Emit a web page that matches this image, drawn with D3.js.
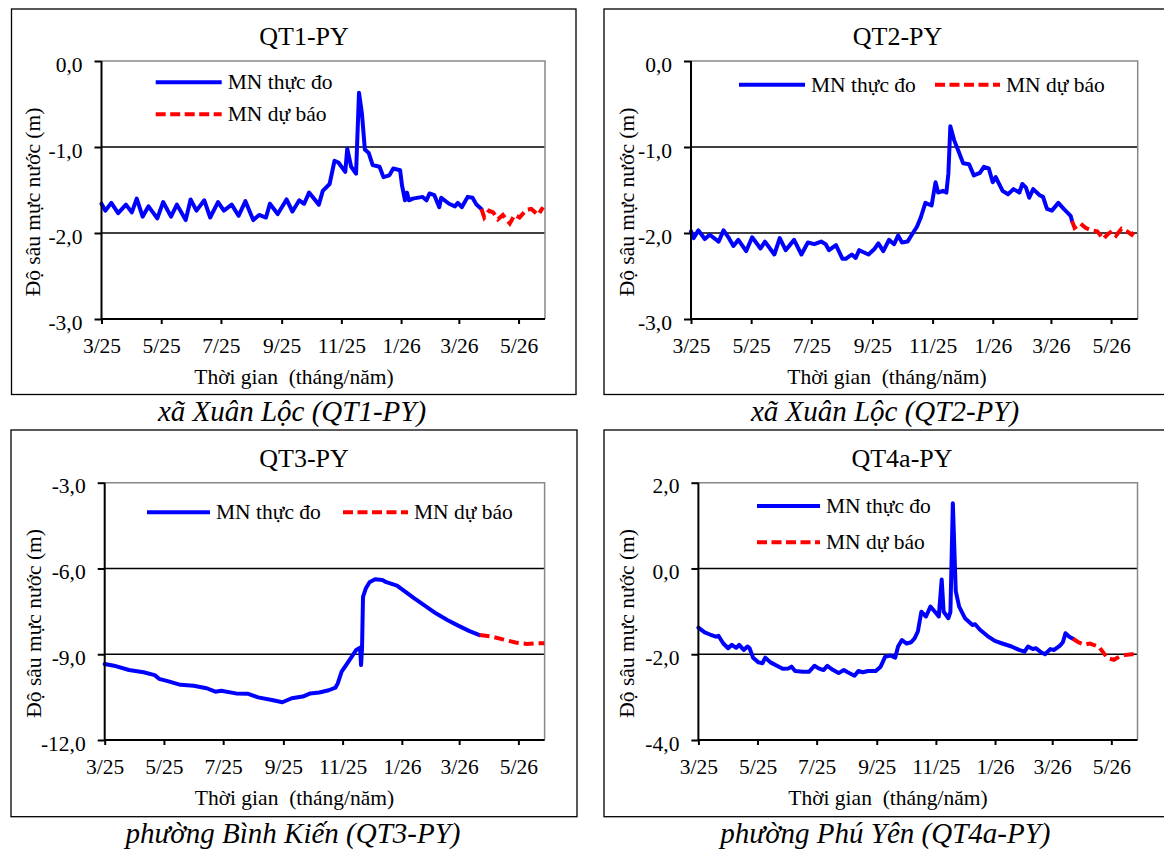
<!DOCTYPE html>
<html>
<head>
<meta charset="utf-8">
<script src="https://cdn.jsdelivr.net/npm/d3@7"></script>
<style>
  html, body { margin: 0; padding: 0; background: #fff; overflow: hidden; }
  svg { display: block; font-family: "Liberation Serif", "Times New Roman", serif; }
</style>
</head>
<body>
<svg id="chart" width="1164" height="850"></svg>
<script>
// ---------------------------------------------------------
//  Groundwater depth, observed vs forecast — four wells
// ---------------------------------------------------------

// time axis: days counted from 1 March 2025
const START = new Date(2025, 2, 1);
const END   = new Date(2026, 4, 28);
const tickDates  = ["2025-03-01", "2025-05-01", "2025-07-01", "2025-09-01", "2025-11-01", "2026-01-01", "2026-03-01", "2026-05-01"];
const tickLabels = ["3/25", "5/25", "7/25", "9/25", "11/25", "1/26", "3/26", "5/26"];

const legendLabels = { obs: "MN thực đo", fc: "MN dự báo" };
const titles   = ["QT1-PY", "QT2-PY", "QT3-PY", "QT4a-PY"];
const captions = ["xã Xuân Lộc (QT1-PY)", "xã Xuân Lộc (QT2-PY)", "phường Bình Kiến (QT3-PY)", "phường Phú Yên (QT4a-PY)"];
const yTickSets = [[0, -1, -2, -3], [0, -1, -2, -3], [-3, -6, -9, -12], [2, 0, -2, -4]];

// [day, depth (m)]
const qt1Obs = [[0,-1.66],[4,-1.74],[10,-1.65],[17,-1.77],[25,-1.67],[31,-1.76],[36,-1.60],[42,-1.81],[48,-1.69],[57,-1.83],
  [63,-1.64],[71,-1.81],[77,-1.67],[86,-1.85],[91,-1.61],[97,-1.74],[105,-1.62],[111,-1.82],[119,-1.64],[125,-1.74],
  [133,-1.67],[140,-1.80],[147,-1.63],[155,-1.85],[161,-1.79],[168,-1.82],[172,-1.66],[180,-1.78],[189,-1.61],[195,-1.75],
  [202,-1.62],[207,-1.66],[212,-1.53],[222,-1.67],[226,-1.51],[233,-1.43],[238,-1.16],[242,-1.18],[249,-1.29],[251,-1.02],
  [255,-1.23],[260,-1.31],[263,-0.37],[266,-0.61],[269,-1.03],[273,-1.07],[277,-1.21],[284,-1.23],[288,-1.35],[294,-1.33],
  [298,-1.25],[305,-1.27],[307,-1.45],[310,-1.62],[312,-1.53],[314,-1.62],[318,-1.60],[328,-1.58],[332,-1.62],[335,-1.54],
  [340,-1.56],[345,-1.70],[347,-1.59],[355,-1.66],[361,-1.69],[364,-1.65],[368,-1.70],[374,-1.58],[379,-1.59],[383,-1.67],[388,-1.72]];
const qt1Fc = [[388,-1.72],[391,-1.82],[396,-1.74],[400,-1.76],[405,-1.84],[410,-1.79],[417,-1.89],[422,-1.79],[427,-1.82],
  [434,-1.73],[439,-1.72],[446,-1.79],[451,-1.70]];

const qt2Obs = [[0,-1.98],[2.6,-2.06],[7.5,-1.97],[14,-2.07],[19,-2.02],[28,-2.10],[33,-1.97],[38.5,-2.06],[43,-2.15],[48,-2.08],
  [56,-2.21],[62,-2.05],[70.5,-2.18],[75,-2.10],[84.5,-2.25],[90,-2.06],[96,-2.20],[104.5,-2.08],[112,-2.25],[118.5,-2.11],
  [125,-2.13],[132,-2.10],[136.6,-2.13],[140,-2.20],[147,-2.14],[153.6,-2.30],[157,-2.30],[163,-2.25],[167,-2.29],[170.6,-2.20],
  [180,-2.25],[185.7,-2.19],[190,-2.12],[195,-2.21],[200.8,-2.08],[206,-2.13],[210,-2.03],[214,-2.11],[219.6,-2.10],[225,-2.00],
  [229,-1.93],[233,-1.82],[237.7,-1.65],[244,-1.68],[248,-1.41],[250.6,-1.53],[255.5,-1.51],[259,-1.53],[261,-1.31],[263,-0.76],
  [266.8,-0.92],[271.7,-1.06],[276,-1.19],[282,-1.20],[286.8,-1.33],[293,-1.30],[297,-1.23],[302,-1.25],[306,-1.41],[309,-1.35],
  [316,-1.51],[321.5,-1.55],[327,-1.49],[333,-1.53],[336,-1.43],[339.6,-1.47],[343,-1.59],[347,-1.49],[353.6,-1.56],[357,-1.58],
  [361,-1.72],[366,-1.74],[372.5,-1.65],[378,-1.72],[385,-1.80],[386.4,-1.86]];
const qt2Fc = [[386.4,-1.86],[389,-1.94],[395,-1.89],[400,-1.94],[406,-1.97],[412,-1.98],[418,-2.07],[423,-2.01],[427,-1.98],
  [431,-2.03],[436.6,-1.95],[442,-1.98],[447,-2.02],[451.7,-1.95]];

const qt3Obs = [[0,-9.34],[9.5,-9.40],[25,-9.55],[40,-9.63],[51.5,-9.73],[56,-9.86],[66.7,-9.96],[78,-10.07],[91.5,-10.10],
  [105,-10.19],[114,-10.31],[120,-10.28],[135,-10.37],[147,-10.38],[158,-10.51],[173.5,-10.61],[183,-10.68],[192.6,-10.54],
  [204,-10.48],[211.7,-10.37],[221,-10.34],[230.7,-10.26],[237.6,-10.17],[240,-10.02],[244,-9.61],[249.8,-9.32],[255.5,-9.03],
  [259,-8.85],[263,-8.77],[264,-9.38],[265,-8.79],[266,-6.99],[269,-6.69],[272.7,-6.48],[278.4,-6.38],[286,-6.40],[290,-6.48],
  [301,-6.60],[307,-6.75],[318.5,-7.04],[330,-7.31],[341,-7.57],[352.8,-7.80],[364,-8.00],[375.7,-8.19],[386,-8.33]];
const qt3Fc = [[386,-8.33],[398.5,-8.38],[410,-8.48],[423,-8.59],[434.8,-8.64],[444,-8.62],[452.7,-8.62]];

const qt4Obs = [[0,-1.38],[6.5,-1.49],[12,-1.54],[18,-1.59],[20.7,-1.57],[25.7,-1.75],[30.7,-1.86],[34.5,-1.78],[39,-1.85],
  [42,-1.78],[46.8,-1.90],[50.6,-1.82],[52.6,-1.85],[56.4,-2.08],[62,-2.19],[66,-2.21],[69,-2.08],[74.4,-2.19],[81,-2.27],
  [87,-2.34],[93,-2.33],[96,-2.29],[99.8,-2.39],[108,-2.41],[114,-2.41],[119.7,-2.27],[124,-2.33],[129,-2.37],[133,-2.27],
  [139,-2.37],[144.7,-2.44],[150,-2.37],[154,-2.42],[161,-2.50],[165,-2.39],[169.6,-2.42],[175,-2.39],[183,-2.39],[188,-2.29],
  [192.6,-2.06],[198,-2.03],[203,-2.08],[206,-1.82],[210,-1.67],[214.9,-1.75],[219.5,-1.72],[223,-1.63],[226.4,-1.47],[230,-1.01],
  [234.8,-1.12],[239.4,-0.89],[244,-1.01],[248,-1.12],[251,-0.26],[253,-1.01],[257.9,-1.16],[260,-1.01],[262.5,1.52],[265.5,-0.53],
  [269,-0.89],[275,-1.16],[282.8,-1.32],[285.5,-1.30],[290.5,-1.43],[298,-1.57],[305.8,-1.69],[313.5,-1.75],[323,-1.82],
  [330.8,-1.90],[336.5,-1.94],[340,-1.82],[345,-1.88],[348,-1.86],[354,-1.96],[357.6,-2.00],[363,-1.88],[367,-1.90],[373,-1.80],
  [376,-1.72],[378.7,-1.51],[382.6,-1.59],[386.4,-1.64]];
const qt4Fc = [[386.4,-1.64],[392,-1.72],[398,-1.78],[404,-1.75],[407.7,-1.78],[413,-1.82],[417,-1.94],[422,-2.09],[428.6,-2.13],
  [434,-2.06],[440,-2.02],[446.7,-2.00],[452.4,-2.00]];

const seriesObs = [qt1Obs, qt2Obs, qt3Obs, qt4Obs];
const seriesFc  = [qt1Fc, qt2Fc, qt3Fc, qt4Fc];

// ---- layout (pixels) ----
const layout = [
  { box: [11.5, 9, 576, 394.5],  plot: [101.5, 61, 545, 319],    titleX: 304,   capX: 292, axTitleX: 294, yTitleX: 33,
    legend: [{ k: 'obs', x: 155.7, y: 82.3, len: 66 }, { k: 'fc', x: 155.7, y: 114.3, len: 66 }] },
  { box: [604, 9, 1170, 394.5],  plot: [691, 61, 1137.7, 319],   titleX: 897.5, capX: 885, axTitleX: 887, yTitleX: 626.5,
    legend: [{ k: 'obs', x: 739, y: 84.7, len: 66 }, { k: 'fc', x: 935, y: 84.7, len: 65 }] },
  { box: [11, 430, 577, 816.7],  plot: [104.7, 482.7, 544.6, 740], titleX: 304,  capX: 293, axTitleX: 294.5, yTitleX: 34,
    legend: [{ k: 'obs', x: 147, y: 512.3, len: 63 }, { k: 'fc', x: 343, y: 512.3, len: 65 }] },
  { box: [604, 430, 1170, 816.7], plot: [698.4, 482.7, 1137.5, 740], titleX: 902, capX: 885.4, axTitleX: 888, yTitleX: 626.5,
    legend: [{ k: 'obs', x: 757, y: 506, len: 63 }, { k: 'fc', x: 757, y: 542.3, len: 63 }] }
];

const BLUE = '#0000ff', RED = '#ff0000';
const SERIF = '"Liberation Serif", "Times New Roman", serif';
const fmt = d3.formatLocale({ decimal: ',', thousands: '.', grouping: [3], currency: ['', ''], minus: '-' }).format('.1f');
const toDate = d => new Date(START.getTime() + d * 864e5);
const parse = d3.timeParse('%Y-%m-%d');

const svg = d3.select('#chart');

layout.forEach((L, i) => {
  const [l, t, r, b] = L.plot;
  const g = svg.append('g').attr('font-family', SERIF);

  // outer frame
  g.append('rect')
    .attr('x', L.box[0]).attr('y', L.box[1])
    .attr('width', L.box[2] - L.box[0]).attr('height', L.box[3] - L.box[1])
    .attr('fill', 'none').attr('stroke', '#000').attr('stroke-width', 1.3);

  const x = d3.scaleTime().domain([START, END]).range([l, r]);
  const yt = yTickSets[i];
  const y = d3.scaleLinear().domain([d3.min(yt), d3.max(yt)]).range([b, t]);

  // gridlines at interior ticks
  g.append('g')
    .selectAll('line')
    .data(yt.filter(v => v !== d3.min(yt) && v !== d3.max(yt)))
    .join('line')
    .attr('x1', l).attr('x2', r)
    .attr('y1', d => y(d)).attr('y2', d => y(d))
    .attr('stroke', '#000').attr('stroke-width', 1.4);

  // plot area border top / right (grey)
  g.append('path')
    .attr('d', `M${l},${t}H${r}V${b}`)
    .attr('fill', 'none').attr('stroke', '#888').attr('stroke-width', 1.5);

  // series
  const line = d3.line().x(d => x(toDate(d[0]))).y(d => y(d[1]));
  g.append('path').datum(seriesObs[i])
    .attr('d', line).attr('fill', 'none')
    .attr('stroke', BLUE).attr('stroke-width', 4)
    .attr('stroke-linejoin', 'round').attr('stroke-linecap', 'round');
  g.append('path').datum(seriesFc[i])
    .attr('d', line).attr('fill', 'none')
    .attr('stroke', RED).attr('stroke-width', 4)
    .attr('stroke-dasharray', '10,5');

  // y axis
  const yAxis = g.append('g')
    .attr('transform', `translate(${l},0)`)
    .call(d3.axisLeft(y).tickValues(yt).tickSize(7).tickFormat(fmt));
  yAxis.attr('font-family', SERIF);
  yAxis.select('.domain').remove();
  yAxis.selectAll('.tick line').attr('stroke', '#000').attr('stroke-width', 2);
  yAxis.selectAll('.tick text')
    .attr('x', -19).attr('dy', 10)
    .attr('font-size', 21.5).attr('fill', '#000');

  // x axis
  const xAxis = g.append('g')
    .attr('transform', `translate(0,${b})`)
    .call(d3.axisBottom(x).tickValues(tickDates.map(parse)).tickSize(5)
      .tickFormat((d, k) => tickLabels[k]));
  xAxis.attr('font-family', SERIF);
  xAxis.select('.domain').remove();
  xAxis.selectAll('.tick line').attr('stroke', '#000').attr('stroke-width', 2);
  xAxis.selectAll('.tick text')
    .attr('y', 34).attr('dy', 0)
    .attr('font-size', 21.5).attr('fill', '#000');

  // left & bottom axis lines
  g.append('path')
    .attr('d', `M${l},${t}V${b}H${r}`)
    .attr('fill', 'none').attr('stroke', '#000').attr('stroke-width', 2);

  // titles
  g.append('text')
    .attr('x', L.titleX).attr('y', t - 16)
    .attr('text-anchor', 'middle').attr('font-size', 26)
    .text(titles[i]);
  g.append('text')
    .attr('x', L.axTitleX).attr('y', b + 65)
    .attr('text-anchor', 'middle').attr('font-size', 21.5)
    .attr('xml:space', 'preserve')
    .text('Thời gian  (tháng/năm)');
  g.append('text')
    .attr('transform', `translate(${L.yTitleX},${(t + b) / 2 + 12}) rotate(-90)`)
    .attr('text-anchor', 'middle').attr('dy', '0.33em').attr('font-size', 21.5)
    .text('Độ sâu mực nước (m)');
  g.append('text')
    .attr('x', L.capX).attr('y', L.box[3] + 26.5)
    .attr('text-anchor', 'middle').attr('font-size', 29).attr('font-style', 'italic')
    .text(captions[i]);

  // legend
  L.legend.forEach(e => {
    g.append('line')
      .attr('x1', e.x).attr('x2', e.x + e.len).attr('y1', e.y).attr('y2', e.y)
      .attr('stroke', e.k === 'obs' ? BLUE : RED).attr('stroke-width', 4)
      .attr('stroke-dasharray', e.k === 'obs' ? null : '10,4.5');
    g.append('text')
      .attr('x', e.x + e.len + 6).attr('y', e.y + 7)
      .attr('font-size', 21.5)
      .text(legendLabels[e.k]);
  });
});
</script>
</body>
</html>
